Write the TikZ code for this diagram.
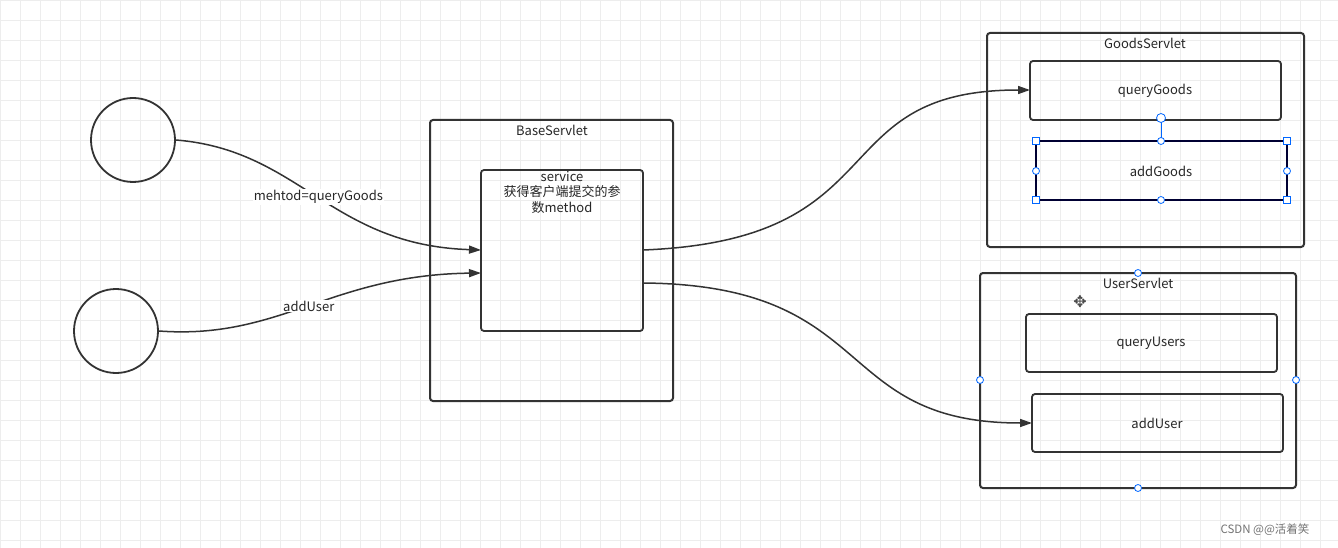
\documentclass[tikz,border=0pt]{standalone}
\usepackage{fontspec}
\setmainfont{Noto Sans CJK SC}
\newfontfamily\djv{DejaVu Sans}
\usetikzlibrary{arrows.meta}
\begin{document}
\begin{tikzpicture}[x=1pt,y=-1pt,
  box/.style={draw=black!80,line width=2pt,rounded corners=3pt},
  inner/.style={draw=black!80,line width=1.8pt,rounded corners=3pt},
  conn/.style={draw=black!80,line width=1.5pt,-{Triangle[length=12pt,width=8pt]}},
  handle/.style={draw=blue!60!cyan,fill=white,line width=0.8pt,circle,inner sep=0pt,minimum size=7pt},
  sq/.style={draw=blue!60!cyan,fill=white,line width=0.8pt,inner sep=0pt,minimum size=7pt},
  lbl/.style={font=\fontsize{13}{15.5}\selectfont,text=black!85},
  circ/.style={draw=black!80,line width=1.8pt,circle,minimum size=84pt,inner sep=0pt}]
\useasboundingbox (0,0) rectangle (1338,548);
\fill[white] (0,0) rectangle (1338,548);
\foreach \x in {0,20,...,1338} \draw[black!7,line width=0.5pt] (\x,0) -- (\x,548);
\foreach \y in {0,20,...,548} \draw[black!7,line width=0.5pt] (0,\y) -- (1338,\y);
\node[circ] (c1) at (133,140) {};
\node[circ] (c2) at (116,331) {};
\draw[box] (430,120) rectangle (673,401);
\node[lbl] (bt) at (552,130) {BaseServlet};
\draw[inner] (481,170) rectangle (643,331);
\node[lbl,align=center,anchor=north,inner sep=0pt] (sv) at (562,171) {service\\获得客户端提交的参\\数method};
\coordinate (sin1) at (481,250); \coordinate (sin2) at (481,273);
\coordinate (sout1) at (643,250); \coordinate (sout2) at (643,283);
\draw[box] (987,33) rectangle (1304,247);
\node[lbl] (gt) at (1145,43) {GoodsServlet};
\draw[inner] (1030,61) rectangle (1281,120);
\node[lbl] (qg) at (1155,91) {queryGoods};
\draw[draw=black!80!blue,line width=1.8pt] (1036,141) rectangle (1287,200);
\node[lbl] (ag) at (1161,171) {addGoods};
\draw[blue!60!cyan,line width=0.8pt] (1161,118) -- (1161,141);
\node[handle,minimum size=9pt] at (1161,118) {};
\foreach \x/\y in {1036/141,1287/141,1036/200,1287/200} \node[sq] at (\x,\y) {};
\foreach \x/\y in {1161/141,1036/171,1287/171,1161/200} \node[handle] at (\x,\y) {};
\draw[box] (980,273) rectangle (1296,488);
\node[lbl] (ut) at (1138,283) {UserServlet};
\draw[inner] (1026,314) rectangle (1277,372);
\node[lbl] (qu) at (1151,343) {queryUsers};
\draw[inner] (1032,394) rectangle (1283,452);
\node[lbl] (au) at (1157,423) {addUser};
\foreach \x/\y in {1138/273,980/380,1296/380,1138/488} \node[handle] at (\x,\y) {};
\node[font=\djv\fontsize{16}{16}\selectfont,text=black!70] at (1080,302) {✥};
\draw[conn] (c1.east) .. controls (300,150) and (330,245) .. (sin1)
  node[pos=0.5,lbl,fill=white,inner sep=1pt] {mehtod=queryGoods};
\draw[conn] (c2.east) .. controls (280,340) and (330,275) .. (sin2)
  node[pos=0.5,lbl,fill=white,inner sep=1pt] {addUser};
\draw[conn] (sout1) .. controls (900,240) and (820,90) .. (1030,90);
\draw[conn] (sout2) .. controls (880,285) and (830,423) .. (1032,423);
\node[font=\fontsize{11.5}{13}\selectfont,text=black!55] (wm) at (1265,530) {CSDN @@活着笑};
\end{tikzpicture}
\end{document}
